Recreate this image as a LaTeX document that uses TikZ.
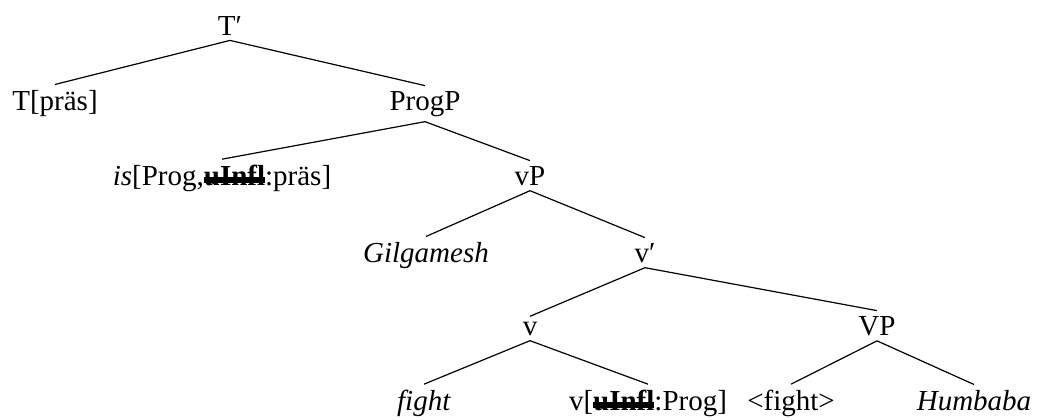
\documentclass[tikz,border=0pt]{standalone}
\usepackage{fontspec}
\setmainfont{Liberation Serif}
\newsavebox\strkbox
\newcommand\strk[1]{\sbox\strkbox{\textbf{#1}}\usebox\strkbox\llap{\rule[0.06em]{\wd\strkbox}{0.2em}}}
\begin{document}
\begin{tikzpicture}[x=0.5pt,y=-0.5pt,
  tn/.style={anchor=base,inner sep=2.5pt,font=\fontsize{14.5}{17}\selectfont},
  br/.style={line width=0.6pt}]
\useasboundingbox (0,0) rectangle (1051,419);
\node[tn] (Tbar) at (230,35) {T′};
\node[tn] (Tpres) at (55,110) {T[präs]};
\node[tn] (ProgP) at (425,110) {ProgP};
\node[tn] (is) at (222,185) {\textit{is}[Prog,\strk{uInfl}:präs]};
\node[tn] (vP) at (530,185) {vP};
\node[tn] (Gilg) at (426,262) {\textit{Gilgamesh}};
\node[tn] (vbar) at (645,262) {v′};
\node[tn] (v) at (530,335) {v};
\node[tn] (VP) at (877,335) {VP};
\node[tn] (fight) at (424,410) {\textit{fight}};
\node[tn] (vInfl) at (648,410) {v[\strk{uInfl}:Prog]};
\node[tn] (tfight) at (791,410) {<fight>};
\node[tn] (Humb) at (974,410) {\textit{Humbaba}};
\draw[br] (Tbar.south) -- (Tpres.north);
\draw[br] (Tbar.south) -- (ProgP.north);
\draw[br] (ProgP.south) -- (is.north);
\draw[br] (ProgP.south) -- (vP.north);
\draw[br] (vP.south) -- (Gilg.north);
\draw[br] (vP.south) -- (vbar.north);
\draw[br] (vbar.south) -- (v.north);
\draw[br] (vbar.south) -- (VP.north);
\draw[br] (v.south) -- (fight.north);
\draw[br] (v.south) -- (vInfl.north);
\draw[br] (VP.south) -- (tfight.north);
\draw[br] (VP.south) -- (Humb.north);
\end{tikzpicture}
\end{document}
